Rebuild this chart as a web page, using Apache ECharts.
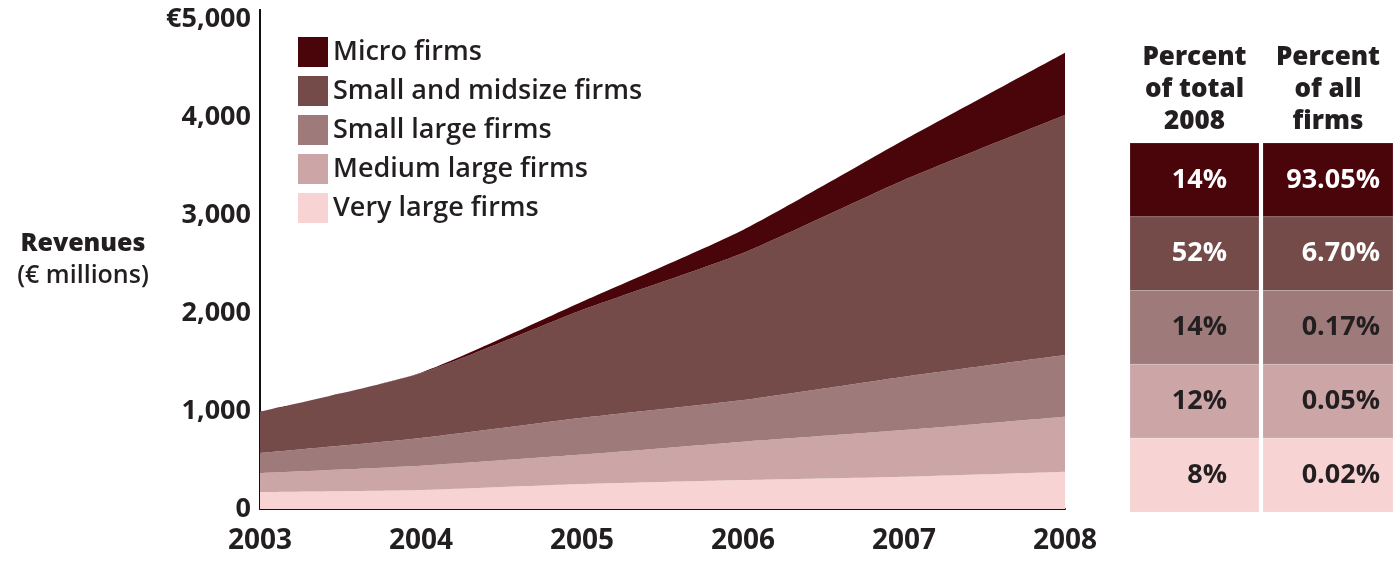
<!DOCTYPE html>
<html>
	<head>
		<meta charset="utf-8" />
		<title>Revenues by firm size</title>
		<script src="https://cdn.jsdelivr.net/npm/echarts@6/dist/echarts.min.js" type="text/javascript"></script>
		<style>
			body { margin: 0; background: #fff; }
		</style>
	</head>
	<body>
		<div id="main" style="width: 1393px; height: 566px;"></div>
		<script>
			// years on the x axis
			var years = ['2003', '2004', '2005', '2006', '2007', '2008'];
			// revenues per segment, € millions
			var veryLarge = [173, 194, 255, 296, 330, 381];
			var mediumLarge = [194, 248, 300, 391, 476, 561];
			var smallLarge = [204, 282, 375, 425, 544, 629];
			var smallMidsize = [422, 661, 1100, 1500, 2007, 2449];
			var micro = [0, 6, 84, 235, 408, 636];

			var seriesNames = ['Very large firms', 'Medium large firms', 'Small large firms', 'Small and midsize firms', 'Micro firms'];
			var seriesColors = ['#f7d3d3', '#cca5a7', '#9e7b7a', '#754b4a', '#4a050a'];
			var seriesData = [veryLarge, mediumLarge, smallLarge, smallMidsize, micro];

			// table on the right, top row = micro firms
			var tableHeaders = ['Percent\nof total\n2008', 'Percent\nof all\nfirms'];
			var shareOfTotal = ['14%', '52%', '14%', '12%', '8%'];
			var shareOfFirms = ['93.05%', '6.70%', '0.17%', '0.05%', '0.02%'];

			var textColor = '#231f20';
			var font = '"Open Sans", "DejaVu Sans", sans-serif';

			var chart = echarts.init(document.getElementById('main'));

			var series = [];
			for (var i = 0; i < seriesNames.length; i++) {
				series.push({
					name: seriesNames[i],
					type: 'line',
					stack: 'total',
					data: seriesData[i],
					smooth: 0.2,
					showSymbol: false,
					lineStyle: { width: 0 },
					itemStyle: { color: seriesColors[i] },
					areaStyle: { color: seriesColors[i], opacity: 1 },
					silent: true
				});
			}

			// table cells
			var graphics = [];
			var rowTop = 143, rowH = 73.8;
			var cols = [{ x: 1130, w: 129, right: 1227 }, { x: 1263, w: 130, right: 1380 }];
			var rowColors = seriesColors.slice().reverse();
			for (var r = 0; r < shareOfTotal.length; r++) {
				var vals = [shareOfTotal[r], shareOfFirms[r]];
				for (var c = 0; c < 2; c++) {
					graphics.push({
						type: 'rect',
						shape: { x: cols[c].x, y: rowTop + r * rowH, width: cols[c].w, height: rowH },
						style: { fill: rowColors[r], stroke: 'rgba(255,255,255,0.15)', lineWidth: 1 }
					});
					graphics.push({
						type: 'text',
						x: cols[c].right,
						y: rowTop + r * rowH + rowH / 2,
						style: {
							text: vals[c],
							fill: r < 2 ? '#ffffff' : textColor,
							font: 'bold 27px ' + font,
							align: 'right',
							verticalAlign: 'middle'
						}
					});
				}
			}
			for (var h = 0; h < tableHeaders.length; h++) {
				graphics.push({
					type: 'text',
					x: cols[h].x + cols[h].w / 2,
					y: 42,
					style: {
						text: tableHeaders[h],
						fill: textColor,
						font: '800 26px ' + font,
						lineHeight: 32,
						align: 'center',
						verticalAlign: 'top'
					}
				});
			}
			// y axis title
			graphics.push({
				type: 'text',
				x: 83,
				y: 228,
				style: {
					text: '{a|Revenues}\n{b|(€ millions)}',
					fill: textColor,
					align: 'center',
					verticalAlign: 'top',
					rich: {
						a: { font: '800 25px ' + font, lineHeight: 32, fill: textColor },
						b: { font: '600 25px ' + font, lineHeight: 32, fill: textColor }
					}
				}
			});
			// y axis line runs a bit above the top tick
			graphics.push({
				type: 'line',
				shape: { x1: 260, y1: 9, x2: 260, y2: 20 },
				style: { stroke: '#111', lineWidth: 2 }
			});

			var option = {
				animation: false,
				grid: { left: 260, right: 328, top: 19, bottom: 57 },
				legend: {
					data: seriesNames.slice().reverse(),
					orient: 'vertical',
					left: 293,
					top: 32,
					itemWidth: 30,
					itemHeight: 30,
					itemGap: 9,
					icon: 'rect',
					selectedMode: false,
					textStyle: { fontFamily: font, fontSize: 27, fontWeight: 600, color: textColor }
				},
				xAxis: {
					type: 'category',
					boundaryGap: false,
					data: years,
					axisLine: { lineStyle: { color: '#111', width: 2 } },
					axisTick: { show: false },
					axisLabel: { fontFamily: font, fontSize: 28, fontWeight: 'bold', color: textColor, margin: 18 }
				},
				yAxis: {
					type: 'value',
					min: 0,
					max: 5000,
					interval: 1000,
					splitLine: { show: false },
					axisLine: { show: true, lineStyle: { color: '#111', width: 2 } },
					axisTick: { show: false },
					axisLabel: {
						fontFamily: font,
						fontSize: 27,
						fontWeight: 'bold',
						color: textColor,
						margin: 9,
						formatter: function (v) {
							var s = v === 0 ? '0' : echarts.format.addCommas(v);
							return v === 5000 ? '€' + s : s;
						}
					}
				},
				series: series,
				graphic: graphics
			};
			chart.setOption(option);
		</script>
	</body>
</html>
